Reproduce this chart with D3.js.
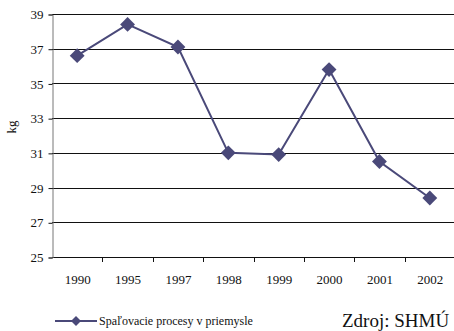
<!DOCTYPE html>
<html>
<head>
<meta charset="utf-8">
<script src="https://cdn.jsdelivr.net/npm/d3@7"></script>
</head>
<body style="margin:0">
<svg id="chart" width="454" height="331" style="display:block"></svg>
<script>
// Emissions from industrial combustion, kg
const years = ["1990", "1995", "1997", "1998", "1999", "2000", "2001", "2002"];
const values = [36.6, 38.4, 37.1, 31.0, 30.9, 35.8, 30.5, 28.4];
const yTicks = [25, 27, 29, 31, 33, 35, 37, 39];
const seriesName = "Spaľovacie procesy v priemysle";
const sourceText = "Zdroj: SHMÚ";
const yLabel = "kg";

const color = "#4a4979";
const serif = "Liberation Serif";
const svg = d3.select("#chart");

const plot = { left: 52, right: 455, top: 14, bottom: 257 };

const x = d3.scaleBand().domain(years).range([plot.left, plot.right]);
const y = d3.scaleLinear().domain([25, 39]).range([plot.bottom, plot.top]);

// horizontal gridlines
svg.append("g")
  .selectAll("line")
  .data(yTicks)
  .join("line")
  .attr("x1", plot.left)
  .attr("x2", 454)
  .attr("y1", d => Math.round(y(d)) + 0.5)
  .attr("y2", d => Math.round(y(d)) + 0.5)
  .attr("stroke", "#111")
  .attr("stroke-width", 1);

// y axis
const yAxis = svg.append("g")
  .attr("transform", `translate(${plot.left + 0.5},0.5)`)
  .call(d3.axisLeft(y).tickValues(yTicks).tickSize(4).tickPadding(5).tickFormat(d3.format("d")));
yAxis.select(".domain").attr("stroke", "#777");
yAxis.selectAll(".tick line").attr("stroke", "#111");
yAxis.selectAll(".tick text")
  .attr("font-family", serif).attr("font-size", 13).attr("fill", "#111");

// x axis
const xAxis = svg.append("g")
  .attr("transform", `translate(0.5,${Math.round(y(25)) + 0.5})`)
  .call(d3.axisBottom(x).tickSize(0).tickPadding(17));
xAxis.select(".domain").remove();
xAxis.selectAll(".tick text")
  .attr("font-family", serif).attr("font-size", 13).attr("fill", "#111");

// tick marks on the category boundaries
svg.append("g")
  .selectAll("line")
  .data(years.slice(1))
  .join("line")
  .attr("x1", d => Math.round(x(d)) + 0.5)
  .attr("x2", d => Math.round(x(d)) + 0.5)
  .attr("y1", Math.round(y(25)))
  .attr("y2", Math.round(y(25)) + 5)
  .attr("stroke", "#111");

// y label
svg.append("text")
  .attr("transform", "translate(16,127) rotate(-90)")
  .attr("text-anchor", "middle")
  .attr("font-family", serif)
  .attr("font-size", 13)
  .attr("fill", "#111")
  .text(yLabel);

// series line
const line = d3.line()
  .x((d, i) => x(years[i]) + x.bandwidth() / 2)
  .y(d => y(d));

svg.append("path")
  .datum(values)
  .attr("d", line)
  .attr("fill", "none")
  .attr("stroke", color)
  .attr("stroke-width", 2);

const diamond = d3.symbol().type(d3.symbolSquare).size(110);

svg.append("g")
  .selectAll("path")
  .data(values)
  .join("path")
  .attr("d", diamond)
  .attr("transform", (d, i) => `translate(${x(years[i]) + x.bandwidth() / 2},${y(d)}) rotate(45)`)
  .attr("fill", color);

// legend
const lg = svg.append("g").attr("transform", "translate(55,321)");
lg.append("line").attr("x1", 0).attr("x2", 42).attr("y1", 0).attr("y2", 0)
  .attr("stroke", color).attr("stroke-width", 2);
lg.append("path").attr("d", d3.symbol().type(d3.symbolSquare).size(50))
  .attr("transform", "translate(21,0) rotate(45)").attr("fill", color);
lg.append("text").attr("x", 44).attr("y", 4)
  .attr("font-family", serif).attr("font-size", 12).attr("fill", "#111")
  .text(seriesName);

// source note
svg.append("text")
  .attr("x", 342)
  .attr("y", 327)
  .attr("font-family", serif)
  .attr("font-size", 19)
  .attr("fill", "#111")
  .text(sourceText);
</script>
</body>
</html>
